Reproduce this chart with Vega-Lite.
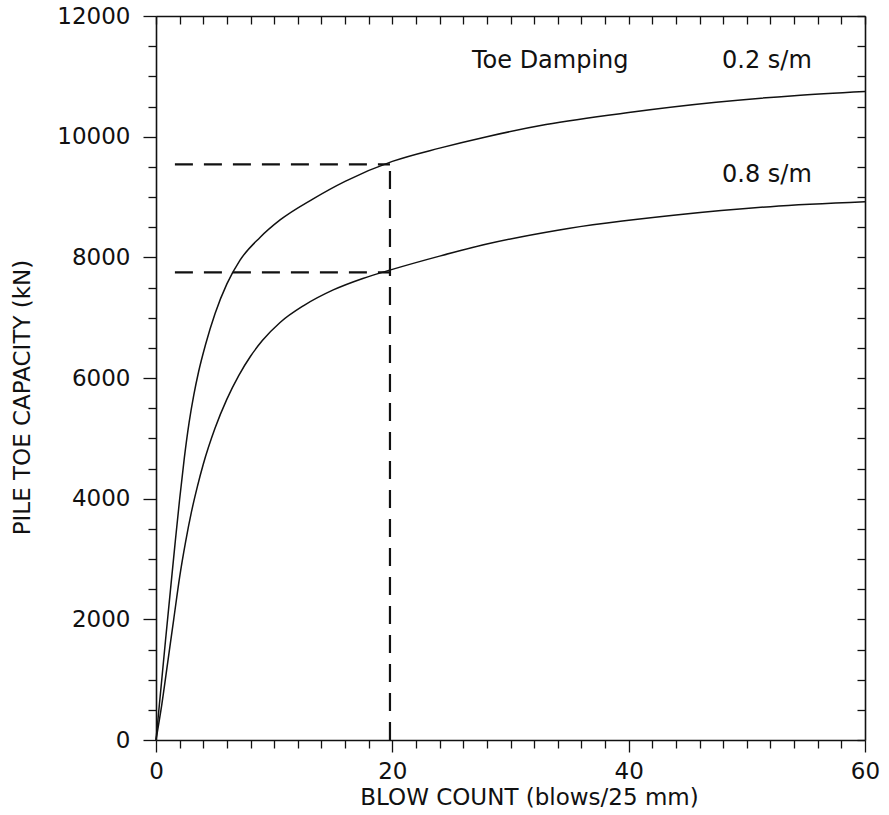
{
  "$schema": "https://vega.github.io/schema/vega-lite/v6.json",
  "width": 709,
  "height": 724,
  "autosize": {"type": "none"},
  "padding": {"left": 156, "top": 16, "right": 24, "bottom": 75},
  "background": "white",
  "config": {
    "view": {"stroke": null},
    "axis": {
      "domainColor": "#111",
      "domainWidth": 1.6,
      "tickColor": "#111",
      "tickWidth": 1.3,
      "grid": false,
      "labelFont": "DejaVu Sans",
      "labelFontSize": 23,
      "labelColor": "#111",
      "titleFont": "DejaVu Sans",
      "titleFontSize": 23,
      "titleFontWeight": "normal",
      "titleColor": "#111"
    }
  },
  "datasets": {
    "curves": [
      {"damping": "0.2", "blows": 0, "capacity": 0},
      {"damping": "0.2", "blows": 0.4, "capacity": 820},
      {"damping": "0.2", "blows": 0.8, "capacity": 1640},
      {"damping": "0.2", "blows": 1.2, "capacity": 2440},
      {"damping": "0.2", "blows": 1.6, "capacity": 3230},
      {"damping": "0.2", "blows": 2.0, "capacity": 3990},
      {"damping": "0.2", "blows": 2.4, "capacity": 4680},
      {"damping": "0.2", "blows": 2.8, "capacity": 5260},
      {"damping": "0.2", "blows": 3.2, "capacity": 5720},
      {"damping": "0.2", "blows": 3.6, "capacity": 6100},
      {"damping": "0.2", "blows": 4.2, "capacity": 6560},
      {"damping": "0.2", "blows": 5.0, "capacity": 7070},
      {"damping": "0.2", "blows": 6.0, "capacity": 7560},
      {"damping": "0.2", "blows": 7.1, "capacity": 7950},
      {"damping": "0.2", "blows": 8.8, "capacity": 8330},
      {"damping": "0.2", "blows": 10.5, "capacity": 8620},
      {"damping": "0.2", "blows": 13.3, "capacity": 8970},
      {"damping": "0.2", "blows": 16, "capacity": 9260},
      {"damping": "0.2", "blows": 20, "capacity": 9590},
      {"damping": "0.2", "blows": 24, "capacity": 9810},
      {"damping": "0.2", "blows": 28, "capacity": 10000},
      {"damping": "0.2", "blows": 33, "capacity": 10200},
      {"damping": "0.2", "blows": 40, "capacity": 10400},
      {"damping": "0.2", "blows": 47.4, "capacity": 10570},
      {"damping": "0.2", "blows": 54, "capacity": 10680},
      {"damping": "0.2", "blows": 60, "capacity": 10750},
      {"damping": "0.8", "blows": 0, "capacity": 0},
      {"damping": "0.8", "blows": 0.5, "capacity": 600},
      {"damping": "0.8", "blows": 1.0, "capacity": 1300},
      {"damping": "0.8", "blows": 1.5, "capacity": 2000},
      {"damping": "0.8", "blows": 2.0, "capacity": 2700},
      {"damping": "0.8", "blows": 2.5, "capacity": 3280},
      {"damping": "0.8", "blows": 3.0, "capacity": 3780},
      {"damping": "0.8", "blows": 3.5, "capacity": 4200},
      {"damping": "0.8", "blows": 4.0, "capacity": 4570},
      {"damping": "0.8", "blows": 5.0, "capacity": 5170},
      {"damping": "0.8", "blows": 6.0, "capacity": 5650},
      {"damping": "0.8", "blows": 7.0, "capacity": 6040},
      {"damping": "0.8", "blows": 8.0, "capacity": 6360},
      {"damping": "0.8", "blows": 9.0, "capacity": 6620},
      {"damping": "0.8", "blows": 10.5, "capacity": 6920},
      {"damping": "0.8", "blows": 12.5, "capacity": 7200},
      {"damping": "0.8", "blows": 15, "capacity": 7460},
      {"damping": "0.8", "blows": 17.5, "capacity": 7650},
      {"damping": "0.8", "blows": 20, "capacity": 7800},
      {"damping": "0.8", "blows": 24, "capacity": 8020},
      {"damping": "0.8", "blows": 28, "capacity": 8220},
      {"damping": "0.8", "blows": 34, "capacity": 8450},
      {"damping": "0.8", "blows": 44, "capacity": 8700},
      {"damping": "0.8", "blows": 52, "capacity": 8840},
      {"damping": "0.8", "blows": 60, "capacity": 8920}
    ],
    "dash": [
      {"blows": 1.6, "blows2": 19.8, "capacity": 9540, "capacity2": 9540},
      {"blows": 1.6, "blows2": 19.8, "capacity": 7750, "capacity2": 7750},
      {"blows": 19.8, "blows2": 19.8, "capacity": 0, "capacity2": 9586}
    ],
    "labels": [
      {"blows": 26.74, "capacity": 11134, "label": "Toe Damping"},
      {"blows": 47.9, "capacity": 11134, "label": "0.2 s/m"},
      {"blows": 47.9, "capacity": 9254, "label": "0.8 s/m"}
    ]
  },
  "layer": [
    {
      "data": {"name": "curves"},
      "mark": {"type": "line", "interpolate": "monotone", "color": "#111", "strokeWidth": 1.5},
      "encoding": {
        "x": {
          "field": "blows", "type": "quantitative",
          "scale": {"domain": [0, 60], "nice": false, "zero": false},
          "axis": {
            "orient": "bottom",
            "values": [0,2,4,6,8,10,12,14,16,18,20,22,24,26,28,30,32,34,36,38,40,42,44,46,48,50,52,54,56,58,60],
            "format": "d",
            "labelExpr": "datum.value % 20 === 0 ? datum.label : ''",
            "tickSize": {"condition": {"test": "datum.value % 20 === 0", "value": 12}, "value": 8},
            "labelPadding": 8,
            "labelFlush": false,
            "labelOverlap": false,
            "title": "BLOW COUNT (blows/25 mm)",
            "titleX": 373,
            "titleY": 57,
            "titleBaseline": "middle",
            "titleAlign": "center"
          }
        },
        "y": {
          "field": "capacity", "type": "quantitative",
          "scale": {"domain": [0, 12000], "nice": false, "zero": false},
          "axis": {
            "orient": "left",
            "values": [0,500,1000,1500,2000,2500,3000,3500,4000,4500,5000,5500,6000,6500,7000,7500,8000,8500,9000,9500,10000,10500,11000,11500,12000],
            "format": "d",
            "labelExpr": "datum.value % 2000 === 0 ? datum.label : ''",
            "tickSize": {"condition": {"test": "datum.value % 2000 === 0", "value": 13}, "value": 8},
            "labelPadding": 13,
            "labelFlush": false,
            "labelOverlap": false,
            "labelBaseline": "middle",
            "title": "PILE TOE CAPACITY (kN)",
            "titleX": -134,
            "titleY": 381,
            "titleAngle": -90,
            "titleBaseline": "middle",
            "titleAlign": "center"
          }
        },
        "detail": {"field": "damping", "type": "nominal"}
      }
    },
    {
      "data": {"name": "dash"},
      "mark": {"type": "rule", "color": "#111", "strokeWidth": 2.2, "strokeDash": [18, 11]},
      "encoding": {
        "x": {
          "field": "blows", "type": "quantitative",
          "scale": {"domain": [0, 60], "nice": false, "zero": false},
          "axis": {
            "orient": "top",
            "values": [0,2,4,6,8,10,12,14,16,18,20,22,24,26,28,30,32,34,36,38,40,42,44,46,48,50,52,54,56,58,60],
            "labels": false,
            "tickSize": -8,
            "title": null
          }
        },
        "x2": {"field": "blows2"},
        "y": {
          "field": "capacity", "type": "quantitative",
          "scale": {"domain": [0, 12000], "nice": false, "zero": false},
          "axis": {
            "orient": "right",
            "values": [0,500,1000,1500,2000,2500,3000,3500,4000,4500,5000,5500,6000,6500,7000,7500,8000,8500,9000,9500,10000,10500,11000,11500,12000],
            "labels": false,
            "tickSize": -8,
            "title": null
          }
        },
        "y2": {"field": "capacity2"}
      }
    },
    {
      "data": {"name": "labels"},
      "mark": {"type": "text", "align": "left", "baseline": "alphabetic", "font": "DejaVu Sans", "fontSize": 24, "color": "#111"},
      "encoding": {
        "x": {"field": "blows", "type": "quantitative", "scale": {"domain": [0, 60], "nice": false, "zero": false}, "axis": null},
        "y": {"field": "capacity", "type": "quantitative", "scale": {"domain": [0, 12000], "nice": false, "zero": false}, "axis": null},
        "text": {"field": "label", "type": "nominal"}
      }
    }
  ],
  "resolve": {"axis": {"x": "independent", "y": "independent"}}
}
